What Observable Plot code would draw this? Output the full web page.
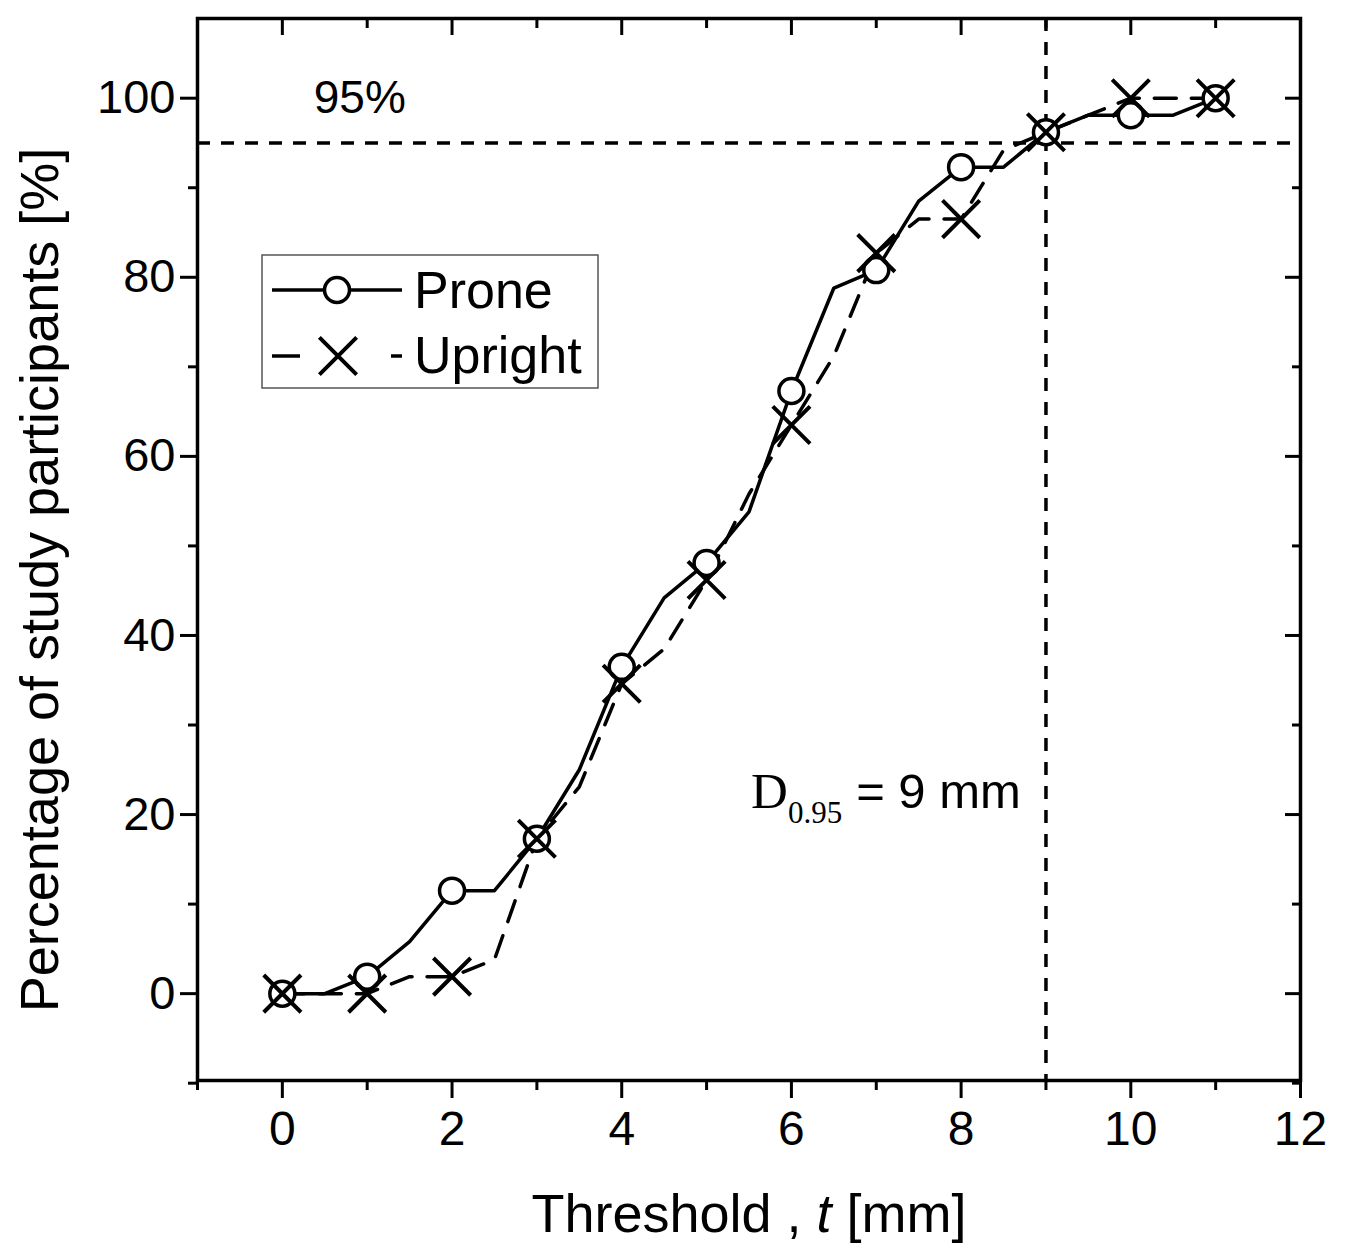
<!DOCTYPE html>
<html>
<head>
<meta charset="utf-8">
<script src="https://cdn.jsdelivr.net/npm/d3@7"></script>
<script src="https://cdn.jsdelivr.net/npm/@observablehq/plot@0.6"></script>
<style>
  html, body { margin: 0; padding: 0; background: #fff; }
  #chart svg { display: block; }
</style>
</head>
<body>
<div id="chart"></div>
<script>
// ---------------- data ----------------
const thresholds = [0, 0.5, 1, 1.5, 2, 2.5, 3, 3.5, 4, 4.5, 5, 5.5, 6, 6.5, 7, 7.5, 8, 8.5, 9, 9.5, 10, 10.5, 11];
const proneValues = [0, 0, 1.9, 5.8, 11.5, 11.5, 17.3, 25.0, 36.5, 44.2, 48.1, 53.8, 67.3, 78.8, 80.8, 88.5, 92.3, 92.3, 96.2, 98.1, 98.1, 98.1, 100];
const uprightValues = [0, 0, 0, 1.9, 1.9, 3.8, 17.3, 23.1, 34.6, 38.5, 46.2, 55.8, 63.5, 71.2, 82.7, 86.5, 86.5, 94.2, 96.2, 98.1, 100, 100, 100];

const seriesNames = ["Prone", "Upright"];
const xMajorTicks = [0, 2, 4, 6, 8, 10, 12];
const xMinorTicks = [-1, 1, 3, 5, 7, 9, 11];
const yMajorTicks = [0, 20, 40, 60, 80, 100];
const yMinorTicks = [-10, 10, 30, 50, 70, 90];
const refPercent = [95];
const refThreshold = [9];
const pctLabel = ["95%"];
const pctLabelPos = [{x: 0.37, y: 100}];
const dLabelPos = {x: 5.53, y: 20.7};
const xLabel = ["Threshold , ", "t", " [mm]"];
const yLabel = "Percentage of study participants [%]";

// ---------------- tables ----------------
const prone = thresholds.map((t, i) => ({t, v: proneValues[i]}));
const upright = thresholds.map((t, i) => ({t, v: uprightValues[i]}));
const proneMarkers = prone.filter(d => Number.isInteger(d.t));
const uprightMarkers = upright.filter(d => Number.isInteger(d.t));

const SANS = "'Liberation Sans', Arial, Helvetica, sans-serif";
const SERIF = "'Liberation Serif', 'Times New Roman', serif";
const blank = () => "";
const LW = 3.5;

const plot = Plot.plot({
  width: 1347,
  height: 1243,
  marginLeft: 197,
  marginRight: 47,
  marginTop: 18,
  marginBottom: 163,
  x: {domain: [-1, 12]},
  y: {domain: [-9.7, 108.9]},
  style: {fontFamily: SANS, background: "#fff", color: "#000", overflow: "visible"},
  marks: [
    // reference lines
    Plot.ruleY(refPercent, {stroke: "#000", strokeWidth: LW, strokeDasharray: "13,11"}),
    Plot.ruleX(refThreshold, {stroke: "#000", strokeWidth: LW, strokeDasharray: "13,11"}),
    // series lines
    Plot.line(upright, {x: "t", y: "v", stroke: "#000", strokeWidth: LW, strokeDasharray: "22,15"}),
    Plot.line(prone, {x: "t", y: "v", stroke: "#000", strokeWidth: LW}),
    Plot.dot(proneMarkers, {x: "t", y: "v", r: 12.5, fill: "#fff", stroke: "#000", strokeWidth: LW}),
    Plot.dot(uprightMarkers, {x: "t", y: "v", symbol: "times", r: 17, fill: "none", stroke: "#000", strokeWidth: 4}),
    // annotation
    Plot.text(pctLabelPos, {x: "x", y: "y", text: (d, i) => pctLabel[i], textAnchor: "start", lineAnchor: "middle", fontSize: 46, fill: "#000"}),
    // axes: bottom
    Plot.axisX(xMajorTicks, {anchor: "bottom", tickSize: 18, tickPadding: 12, fontSize: 48, strokeWidth: 3, label: null}),
    Plot.axisX(xMinorTicks, {anchor: "bottom", tickSize: 10, tickFormat: blank, strokeWidth: 3, label: null}),
    // top (inward)
    Plot.axisX(xMajorTicks, {anchor: "top", tickSize: 16, dy: 16, tickFormat: blank, strokeWidth: 3, label: null}),
    Plot.axisX(xMinorTicks, {anchor: "top", tickSize: 9, dy: 9, tickFormat: blank, strokeWidth: 3, label: null}),
    // left
    Plot.axisY(yMajorTicks, {anchor: "left", tickSize: 17, tickPadding: 5, fontSize: 47, strokeWidth: 3, label: null}),
    Plot.axisY(yMinorTicks, {anchor: "left", tickSize: 9, tickFormat: blank, strokeWidth: 3, label: null}),
    // right (inward)
    Plot.axisY(yMajorTicks, {anchor: "right", tickSize: 16, dx: -16, tickFormat: blank, strokeWidth: 3, label: null}),
    Plot.axisY(yMinorTicks, {anchor: "right", tickSize: 9, dx: -9, tickFormat: blank, strokeWidth: 3, label: null}),
    Plot.frame({stroke: "#000", strokeWidth: LW})
  ]
});

document.getElementById("chart").appendChild(plot);

// ---------------- extra text and legend ----------------
const svg = d3.select(plot);
const xs = plot.scale("x"), ys = plot.scale("y");

// D0.95 = 9 mm
const dText = svg.append("text")
  .attr("x", xs.apply(dLabelPos.x))
  .attr("y", ys.apply(dLabelPos.y))
  .attr("text-anchor", "start")
  .attr("fill", "#000");
dText.append("tspan").attr("font-family", SERIF).attr("font-size", 51).text("D");
dText.append("tspan").attr("font-family", SERIF).attr("font-size", 31).attr("dy", 15).text("0.95");
dText.append("tspan").attr("font-family", SANS).attr("font-size", 49).attr("dy", -15).attr("dx", 14).text("= 9 mm");

// X axis label
const xl = svg.append("text")
  .attr("x", 749).attr("y", 1232)
  .attr("text-anchor", "middle")
  .attr("font-family", SANS).attr("font-size", 54).attr("fill", "#000");
xl.append("tspan").text(xLabel[0]);
xl.append("tspan").attr("font-style", "italic").text(xLabel[1]);
xl.append("tspan").text(xLabel[2]);

// Y axis label
svg.append("text")
  .attr("transform", "translate(58,580) rotate(-90)")
  .attr("text-anchor", "middle")
  .attr("font-family", SANS).attr("font-size", 54).attr("fill", "#000")
  .text(yLabel);

// Legend
const lg = svg.append("g").attr("text-anchor", "start");
lg.append("rect").attr("x", 262).attr("y", 255).attr("width", 336).attr("height", 133)
  .attr("fill", "#fff").attr("stroke", "#555").attr("stroke-width", 1.5);
// Prone row
lg.append("line").attr("x1", 272).attr("x2", 402).attr("y1", 290).attr("y2", 290)
  .attr("stroke", "#000").attr("stroke-width", LW);
lg.append("circle").attr("cx", 337).attr("cy", 290).attr("r", 12.5)
  .attr("fill", "#fff").attr("stroke", "#000").attr("stroke-width", LW);
lg.append("text").attr("x", 414).attr("y", 308).attr("font-family", SANS).attr("font-size", 52)
  .attr("fill", "#000").text(seriesNames[0]);
// Upright row
lg.append("line").attr("x1", 272).attr("x2", 300).attr("y1", 356).attr("y2", 356)
  .attr("stroke", "#000").attr("stroke-width", LW);
lg.append("line").attr("x1", 391).attr("x2", 402).attr("y1", 356).attr("y2", 356)
  .attr("stroke", "#000").attr("stroke-width", LW);
lg.append("path").attr("d", d3.symbol(d3.symbolTimes, 17 * 17 * Math.PI)())
  .attr("transform", "translate(338,356)")
  .attr("fill", "none").attr("stroke", "#000").attr("stroke-width", 4);
lg.append("text").attr("x", 414).attr("y", 373).attr("font-family", SANS).attr("font-size", 52)
  .attr("fill", "#000").text(seriesNames[1]);
</script>
</body>
</html>
